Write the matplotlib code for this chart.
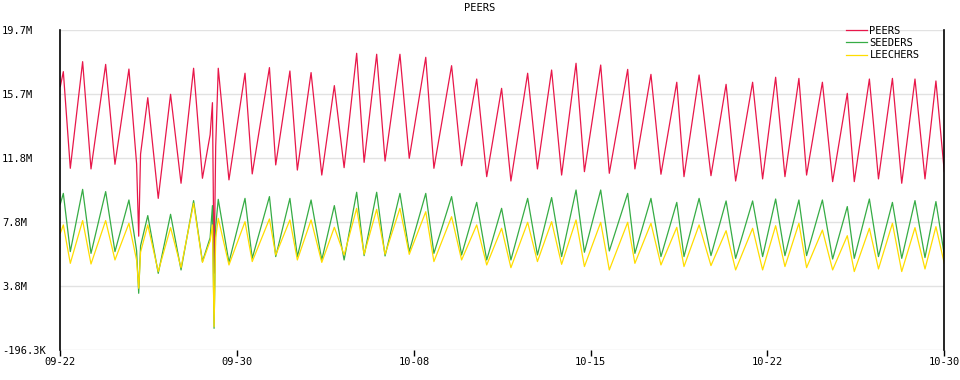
import matplotlib
matplotlib.use("Agg")
import matplotlib.pyplot as plt

# time in days since 09-22 (daily peaks / troughs)
days = [0.00, 0.13, 0.43, 0.96, 1.32, 1.95, 2.35, 2.95, 3.28, 3.37, 3.45, 3.76,
        4.21, 4.74, 5.19, 5.73, 6.11, 6.44, 6.54, 6.61, 6.68, 6.79, 7.25,
        7.94, 8.25, 8.99, 9.26, 9.87, 10.19, 10.78, 11.24, 11.78, 12.20,
        12.74, 13.06, 13.60, 13.96, 14.60, 15.00, 15.71, 16.06, 16.82, 17.25,
        17.90, 18.33, 18.97, 19.37, 20.09, 20.51, 21.12, 21.55, 22.17, 22.53,
        23.23, 23.60, 24.39, 24.70, 25.39, 25.82, 26.50, 26.81, 27.46, 27.97,
        28.62, 29.03, 29.76, 30.19, 30.75, 31.15, 31.75, 32.08, 32.76, 33.20,
        33.83, 34.13, 34.78, 35.17, 35.77, 36.17, 36.74, 37.17, 37.64, 38.00]

# millions
peers = [16.2, 17.13, 11.12, 17.75, 11.08, 17.58, 11.37, 17.29, 11.4, 6.9, 12.0, 15.51,
         9.25, 15.72, 10.19, 17.34, 10.5, 13.2, 15.2, 4.6, 12.5, 17.34, 10.4,
         17.03, 10.77, 17.38, 11.33, 17.17, 11.01, 17.07, 10.7, 16.26, 11.16,
         18.27, 11.49, 18.21, 11.57, 18.21, 11.74, 18.02, 11.12, 17.5, 11.28,
         16.67, 10.6, 16.09, 10.33, 17.03, 11.08, 17.23, 10.7, 17.65, 10.91,
         17.54, 10.81, 17.27, 11.08, 16.96, 10.75, 16.47, 10.6, 16.92, 10.66,
         16.34, 10.33, 16.47, 10.46, 16.78, 10.6, 16.71, 10.7, 16.47, 10.29,
         15.78, 10.29, 16.67, 10.46, 16.71, 10.19, 16.67, 10.46, 16.55, 10.91]

seeders = [8.9, 9.56, 5.94, 9.81, 5.83, 9.67, 5.94, 9.15, 6.0, 3.35, 6.3, 8.18,
           4.59, 8.26, 4.8, 9.11, 5.32, 6.8, 8.8, 1.17, 7.5, 9.19, 5.27,
           9.25, 5.52, 9.36, 5.63, 9.25, 5.63, 9.15, 5.42, 8.8, 5.42,
           9.63, 5.69, 9.63, 5.67, 9.56, 5.94, 9.56, 5.83, 9.36, 5.73,
           9.0, 5.42, 8.63, 5.42, 9.25, 5.73, 9.3, 5.63, 9.77, 5.9,
           9.77, 5.98, 9.56, 5.83, 9.25, 5.63, 9.0, 5.63, 9.25, 5.69,
           9.09, 5.52, 9.09, 5.63, 9.21, 5.69, 9.15, 5.69, 9.15, 5.48,
           8.74, 5.52, 9.21, 5.63, 9.0, 5.52, 9.11, 5.57, 9.05, 5.73]

leechers = [7.08, 7.6, 5.21, 7.87, 5.17, 7.87, 5.42, 7.7, 5.4, 3.66, 5.9, 7.6,
            4.7, 7.43, 4.94, 8.94, 5.27, 6.6, 7.6, 1.27, 6.8, 8.01, 5.11,
            7.8, 5.32, 7.97, 5.73, 7.91, 5.42, 7.91, 5.27, 7.45, 5.73,
            8.63, 5.77, 8.57, 5.77, 8.63, 5.77, 8.42, 5.32, 8.11, 5.42,
            7.6, 5.11, 7.39, 4.94, 7.76, 5.32, 7.8, 5.15, 7.91, 5.01,
            7.76, 4.8, 7.76, 5.21, 7.7, 5.11, 7.45, 5.01, 7.6, 5.07,
            7.24, 4.8, 7.39, 4.8, 7.55, 5.01, 7.7, 4.94, 7.28, 4.8,
            6.93, 4.7, 7.39, 4.86, 7.7, 4.7, 7.43, 4.86, 7.49, 5.21]

x_ticks = [0, 7.6, 15.2, 22.8, 30.4, 38.0]
x_labels = ["09-22", "09-30", "10-08", "10-15", "10-22", "10-30"]
y_ticks = [-0.1963, 3.783, 7.762, 11.741, 15.72, 19.7]
y_labels = ["-196.3K", "3.8M", "7.8M", "11.8M", "15.7M", "19.7M"]

plt.rcParams['font.family'] = ['DejaVu Sans Mono']

fig = plt.figure(figsize=(9.6, 3.8), dpi=100)
ax = fig.add_axes([60.3 / 960, 1 - 350.3 / 380, 884 / 960, 320 / 380])

ax.plot(days, peers, color='#e8174a', lw=0.9, label='PEERS')
ax.plot(days, seeders, color='#36ac45', lw=0.9, label='SEEDERS')
ax.plot(days, leechers, color='#ffdd00', lw=0.9, label='LEECHERS')

ax.set_xlim(0, 38)
ax.set_ylim(y_ticks[0], y_ticks[-1])
ax.set_xticks(x_ticks, x_labels, fontsize=7.5)
ax.set_yticks(y_ticks, y_labels, fontsize=7.5)
for lab in ax.get_yticklabels():
    lab.set_horizontalalignment('left')
# pad is in points: label left edge ~58 px left of the axis
ax.tick_params(axis='y', length=0, pad=42)
ax.tick_params(axis='x', length=4, width=1, color='black', pad=1)
ax.grid(axis='y', color='#e2e2e2', lw=1)
ax.set_axisbelow(True)

ax.spines['top'].set_visible(False)
ax.spines['bottom'].set_visible(False)
ax.spines['left'].set_linewidth(1.2)
ax.spines['right'].set_linewidth(1.2)

fig.text(0.5, 1 - 8 / 380, "PEERS", ha='center', va='center', fontsize=7.5)

ax.legend(loc='upper left', bbox_to_anchor=(846 / 960, 1 - 26 / 380),
          bbox_transform=fig.transFigure, frameon=False, fontsize=7.5,
          handlelength=2.0, handletextpad=0.25, labelspacing=0.2,
          borderpad=0, borderaxespad=0)

fig.savefig("out.png", dpi=100)
